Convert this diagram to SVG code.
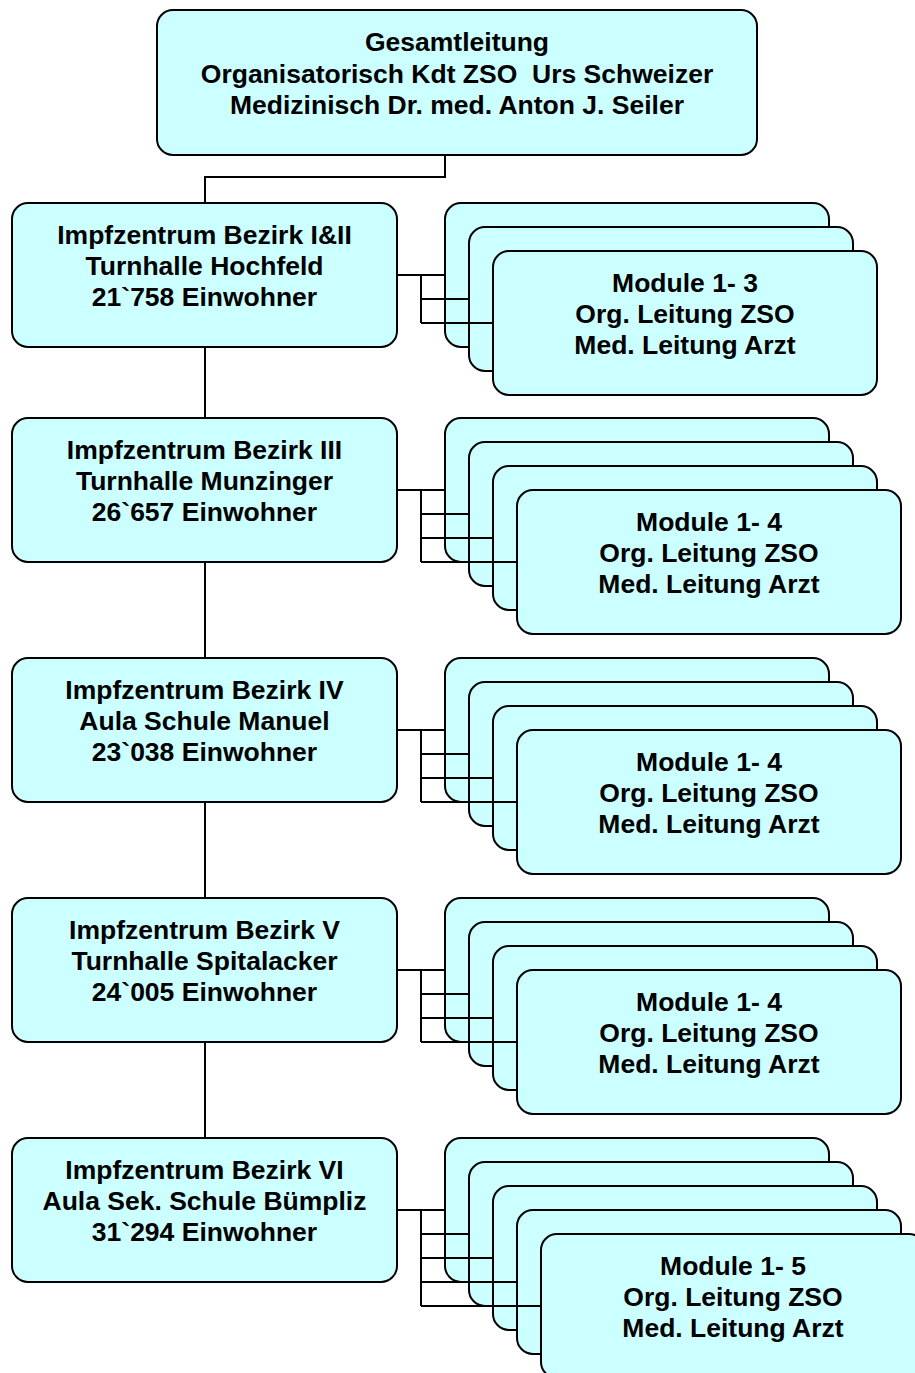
<svg xmlns="http://www.w3.org/2000/svg" width="915" height="1373" viewBox="0 0 915 1373">
<style>
.box{fill:#CCFFFF;stroke:#000;stroke-width:2}
.t{font-family:"Liberation Sans",Arial,sans-serif;font-weight:bold;font-size:26.5px;text-anchor:middle;fill:#000}
.c{fill:none;stroke:#000;stroke-width:2}
</style>
<rect width="915" height="1373" fill="#fff"/>
<g id="gesamtleitung">
<rect class="box" x="157" y="10" width="600" height="145" rx="16"/>
<text class="t" x="457" y="51"><tspan x="457">Gesamtleitung</tspan><tspan x="457" dy="31.5">Organisatorisch Kdt ZSO&#160; Urs Schweizer</tspan><tspan x="457" dy="31.5">Medizinisch Dr. med. Anton J. Seiler</tspan></text>
</g>
<g id="bezirk1">
<rect class="box" x="12" y="203" width="385" height="144" rx="16"/>
<text class="t" x="204.5" y="244"><tspan x="204.5">Impfzentrum Bezirk I&amp;II</tspan><tspan x="204.5" dy="31">Turnhalle Hochfeld</tspan><tspan x="204.5" dy="31">21`758 Einwohner</tspan></text>
</g>
<g id="module1">
<rect class="box" x="445" y="203" width="384" height="144" rx="16"/>
<rect class="box" x="469" y="227" width="384" height="144" rx="16"/>
<rect class="box" x="493" y="251" width="384" height="144" rx="16"/>
<text class="t" x="685" y="292"><tspan x="685">Module 1- 3</tspan><tspan x="685" dy="31">Org. Leitung ZSO</tspan><tspan x="685" dy="31">Med. Leitung Arzt</tspan></text>
</g>
<g id="bezirk2">
<rect class="box" x="12" y="418" width="385" height="144" rx="16"/>
<text class="t" x="204.5" y="459"><tspan x="204.5">Impfzentrum Bezirk III</tspan><tspan x="204.5" dy="31">Turnhalle Munzinger</tspan><tspan x="204.5" dy="31">26`657 Einwohner</tspan></text>
</g>
<g id="module2">
<rect class="box" x="445" y="418" width="384" height="144" rx="16"/>
<rect class="box" x="469" y="442" width="384" height="144" rx="16"/>
<rect class="box" x="493" y="466" width="384" height="144" rx="16"/>
<rect class="box" x="517" y="490" width="384" height="144" rx="16"/>
<text class="t" x="709" y="531"><tspan x="709">Module 1- 4</tspan><tspan x="709" dy="31">Org. Leitung ZSO</tspan><tspan x="709" dy="31">Med. Leitung Arzt</tspan></text>
</g>
<g id="bezirk3">
<rect class="box" x="12" y="658" width="385" height="144" rx="16"/>
<text class="t" x="204.5" y="699"><tspan x="204.5">Impfzentrum Bezirk IV</tspan><tspan x="204.5" dy="31">Aula Schule Manuel</tspan><tspan x="204.5" dy="31">23`038 Einwohner</tspan></text>
</g>
<g id="module3">
<rect class="box" x="445" y="658" width="384" height="144" rx="16"/>
<rect class="box" x="469" y="682" width="384" height="144" rx="16"/>
<rect class="box" x="493" y="706" width="384" height="144" rx="16"/>
<rect class="box" x="517" y="730" width="384" height="144" rx="16"/>
<text class="t" x="709" y="771"><tspan x="709">Module 1- 4</tspan><tspan x="709" dy="31">Org. Leitung ZSO</tspan><tspan x="709" dy="31">Med. Leitung Arzt</tspan></text>
</g>
<g id="bezirk4">
<rect class="box" x="12" y="898" width="385" height="144" rx="16"/>
<text class="t" x="204.5" y="939"><tspan x="204.5">Impfzentrum Bezirk V</tspan><tspan x="204.5" dy="31">Turnhalle Spitalacker</tspan><tspan x="204.5" dy="31">24`005 Einwohner</tspan></text>
</g>
<g id="module4">
<rect class="box" x="445" y="898" width="384" height="144" rx="16"/>
<rect class="box" x="469" y="922" width="384" height="144" rx="16"/>
<rect class="box" x="493" y="946" width="384" height="144" rx="16"/>
<rect class="box" x="517" y="970" width="384" height="144" rx="16"/>
<text class="t" x="709" y="1011"><tspan x="709">Module 1- 4</tspan><tspan x="709" dy="31">Org. Leitung ZSO</tspan><tspan x="709" dy="31">Med. Leitung Arzt</tspan></text>
</g>
<g id="bezirk5">
<rect class="box" x="12" y="1138" width="385" height="144" rx="16"/>
<text class="t" x="204.5" y="1179"><tspan x="204.5">Impfzentrum Bezirk VI</tspan><tspan x="204.5" dy="31">Aula Sek. Schule Bümpliz</tspan><tspan x="204.5" dy="31">31`294 Einwohner</tspan></text>
</g>
<g id="module5">
<rect class="box" x="445" y="1138" width="384" height="144" rx="16"/>
<rect class="box" x="469" y="1162" width="384" height="144" rx="16"/>
<rect class="box" x="493" y="1186" width="384" height="144" rx="16"/>
<rect class="box" x="517" y="1210" width="384" height="144" rx="16"/>
<rect class="box" x="541" y="1234" width="384" height="144" rx="16"/>
<text class="t" x="733" y="1275"><tspan x="733">Module 1- 5</tspan><tspan x="733" dy="31">Org. Leitung ZSO</tspan><tspan x="733" dy="31">Med. Leitung Arzt</tspan></text>
</g>
<g id="connectors">
<path class="c" d="M445,155 V177 H205 V203 M205,347 V418 M205,562 V658 M205,802 V898 M205,1042 V1138"/>
<path class="c" d="M397,275 H445 M421,275 V323 M421,299 H469 M421,323 H493"/>
<path class="c" d="M397,490 H445 M421,490 V562 M421,514 H469 M421,538 H493 M421,562 H517"/>
<path class="c" d="M397,730 H445 M421,730 V802 M421,754 H469 M421,778 H493 M421,802 H517"/>
<path class="c" d="M397,970 H445 M421,970 V1042 M421,994 H469 M421,1018 H493 M421,1042 H517"/>
<path class="c" d="M397,1210 H445 M421,1210 V1306 M421,1234 H469 M421,1258 H493 M421,1282 H517 M421,1306 H541"/>
</g>
</svg>
